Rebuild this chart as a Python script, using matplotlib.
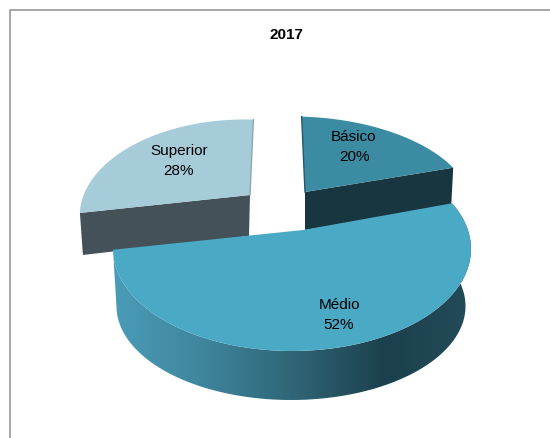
import numpy as np
import matplotlib
matplotlib.use('Agg')
import matplotlib.pyplot as plt
from matplotlib.colors import LinearSegmentedColormap
from matplotlib.patches import Polygon

plt.rcParams['font.family'] = ['Liberation Sans', 'DejaVu Sans']

title = '2017'
labels = ['Básico', 'Médio', 'Superior']
shares = [20, 52, 28]

# ellipse of the pie top, in pixels
CX, CY, RX, RY = 292.0, 250.0, 179.0, 102.0
# where the centre of the disc ends up once tilted
APEX = np.array([303.0, 231.0])


def tilt(angle):
    # angle in degrees clockwise from the top of the disc
    a = np.radians(angle)
    x = np.column_stack([np.sin(a), np.cos(a)])
    p = np.array([(APEX[0] - CX) / RX, (CY - APEX[1]) / RY])
    g = 1 / np.sqrt(1 - p @ p)
    n = p / np.sqrt(p @ p)
    xn = x @ n
    out = x + (g - 1) * xn[:, None] * n + g * p
    out = out / (g * (1 + x @ p))[:, None]
    return np.column_stack([CX + RX * out[:, 0], CY - RY * out[:, 1]])


def wedge_top(a0, a1, apex, m):
    arc = tilt(np.linspace(a0, a1, 120)) - APEX
    arc = arc @ np.array(m).T + apex
    return np.vstack([apex, arc]), arc


fig = plt.figure(figsize=(5.5, 4.39), dpi=100)
ax = fig.add_axes([0, 0, 1, 1])

edges = np.cumsum([0] + shares) * 3.6

# frame around the chart
ax.plot([10, 10, 550], [439, 11, 11], color='#8e8e8e', lw=1.1)

# Basico: pulled out towards the back
apex_b = np.array([305.0, 193.0])
top_b, arc_b = wedge_top(edges[0], edges[1], apex_b, [[1.0, 0.03], [0, 0.91]])
end_b = arc_b[-1]
ax.add_patch(Polygon([apex_b, end_b, end_b + [-2, 38], apex_b + [0, 38]],
                     fc='#18363f', ec='none', zorder=2))
ax.add_patch(Polygon(top_b, fc='#3b8ba3', ec='none', zorder=3))
ax.plot([arc_b[0][0], apex_b[0]], [arc_b[0][1], apex_b[1]], color='#27596a', lw=1, zorder=3)

# Superior: pulled out to the back left
apex_s = np.array([250.0, 196.0])
top_s, arc_s = wedge_top(edges[2], edges[3], apex_s, [[0.89, -0.05], [0, 0.91]])
end_s = arc_s[0]
ax.add_patch(Polygon([apex_s, end_s, end_s + [3, 42], apex_s + [-1, 41]],
                     fc='#445158', ec='none', zorder=2))
ax.add_patch(Polygon(top_s, fc='#a6cbd9', ec='none', zorder=3))
ax.plot([arc_s[-1][0], apex_s[0]], [arc_s[-1][1], apex_s[1]], color='#8fa6ae', lw=1, zorder=3)

# Medio: outer wall with shading, then the top
top_m, arc_m = wedge_top(edges[1], edges[2], APEX, [[1, 0], [0, 1]])
low_m = np.column_stack([CX + (arc_m[:, 0] - CX) * 0.975 - 1, 401 - (352 - arc_m[:, 1]) * 0.92])
wall = Polygon(np.vstack([arc_m, low_m[::-1]]), fc='none', ec='none', zorder=4)
ax.add_patch(wall)
stops = [(0.0, '#4a9cb8'), (0.25, '#3f859d'), (0.5, '#2f6677'), (0.76, '#1c404d'), (1.0, '#234b59')]
cmap = LinearSegmentedColormap.from_list('wall', stops)
grad = ax.imshow(np.linspace(0, 1, 256)[None, :], extent=[113, 471, 420, 200], cmap=cmap,
                 aspect='auto', zorder=4)
grad.set_clip_path(wall)
ax.add_patch(Polygon(top_m, fc='#4aa9c4', ec='none', zorder=5))

# slice labels
text_xy = [(354, 147), (339, 315), (179, 161)]
for name, val, (tx, ty) in zip(labels, shares, text_xy):
    ax.text(tx, ty, f'{name}\n{val}%', ha='center', va='center', fontsize=11,
            color='black', linespacing=1.5, zorder=6)

ax.text(286, 35, title, ha='center', va='center', fontsize=11, fontweight='bold')

ax.set_xlim(0, 550)
ax.set_ylim(439, 0)
ax.axis('off')

plt.savefig('out.png', dpi=100)
